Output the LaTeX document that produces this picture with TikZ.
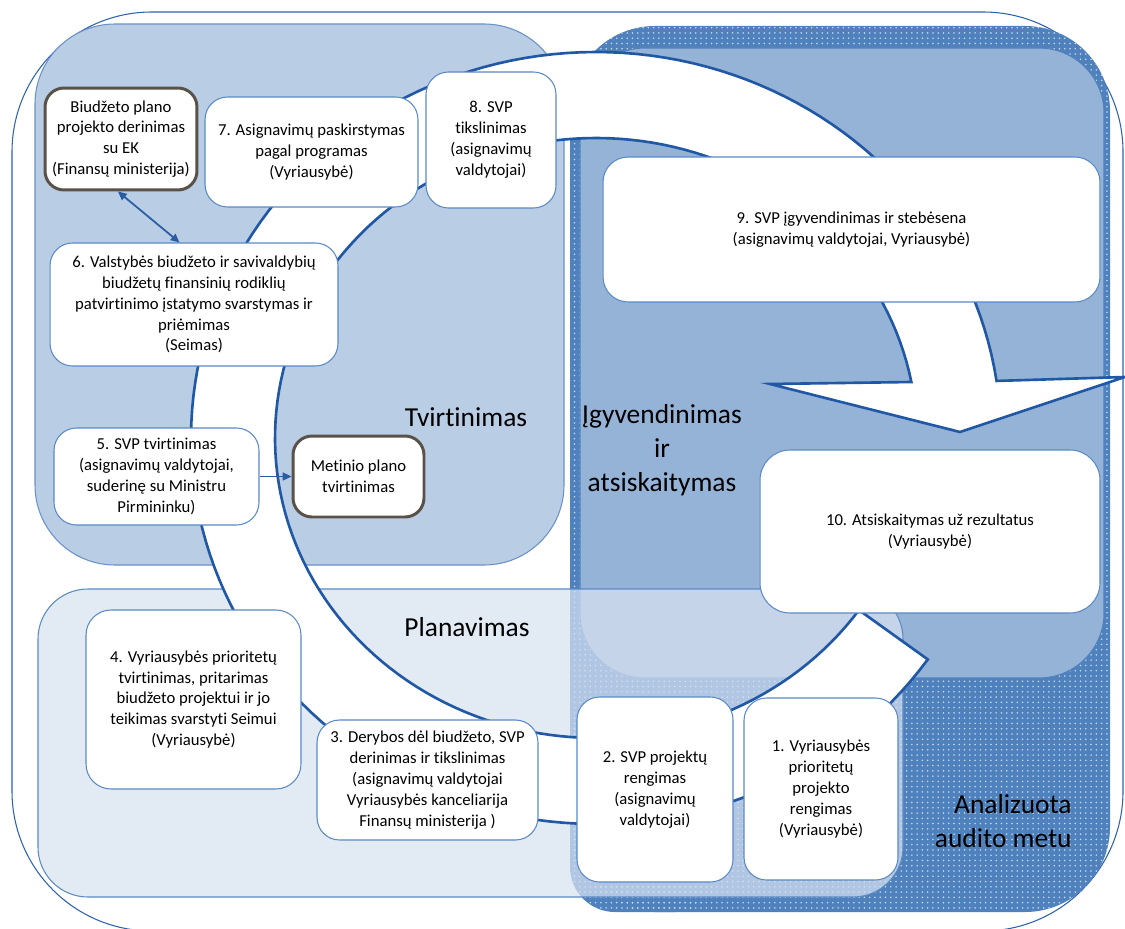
\documentclass[tikz,border=0pt]{standalone}
\usepackage{fontspec}
\setmainfont{Carlito}[Ligatures=NoCommon]
\usetikzlibrary{arrows.meta,patterns.meta,calc}
\definecolor{framec}{HTML}{2F62AE}
\definecolor{tvfill}{HTML}{B9CDE5}
\definecolor{tvline}{HTML}{6A92C8}
\definecolor{medfill}{HTML}{95B3D7}
\definecolor{darkfill}{HTML}{4F81BD}
\definecolor{dotc}{HTML}{C8D8EE}
\definecolor{planfill}{HTML}{D8E2F1}
\definecolor{arrline}{HTML}{2058A6}
\definecolor{boxline}{HTML}{5A8AC6}
\definecolor{specline}{HTML}{5A5148}
\definecolor{conn}{HTML}{2A5DA3}
\begin{document}
\begin{tikzpicture}[x=0.02cm,y=-0.02cm,
  >={Triangle[length=5pt,width=4.5pt]},
  boxnode/.style={draw=boxline, line width=0.6pt, fill=white, rounded corners=0.45cm,
    align=center, inner sep=0pt, font=\fontsize{9.5}{11.9}\selectfont},
  specnode/.style={boxnode, draw=specline, line width=1.7pt, rounded corners=0.38cm},
  biglabel/.style={inner sep=0pt, font=\fontsize{15.6}{19.5}\selectfont},
  connector/.style={draw=conn, line width=1pt},
  panelline/.style={line width=0.6pt},
  dotsfill/.style={pattern={Dots[distance=3pt,radius=0.5pt]}, pattern color=dotc},
  ringarrow/.style={fill=white, draw=arrline, line width=1.5pt}
]
\useasboundingbox (0,0) rectangle (1125,929);
\fill[white] (0,0) rectangle (1125,929);
% outer frame
\draw[framec, panelline, fill=white, rounded corners=2.8cm] (12,12) rectangle (1123,931);
% Tvirtinimas panel
\draw[tvline, panelline, fill=tvfill, rounded corners=1.6cm] (35,24) rectangle (564,565);
% dark dotted panel (Analizuota audito metu)
\fill[darkfill, rounded corners=1.7cm] (570,26) rectangle (1110,912);
\fill[darkfill, rounded corners=0.9cm] (570,700) rectangle (720,912);
\path[dotsfill, rounded corners=1.7cm] (570,26) rectangle (1110,912);
\path[dotsfill, rounded corners=0.9cm] (570,700) rectangle (720,912);
% medium panel (Igyvendinimas)
\draw[darkfill, panelline, fill=medfill, rounded corners=1.3cm] (580,48) rectangle (1104,678);
% Planavimas panel
\draw[boxline, panelline, fill=planfill, fill opacity=0.72, rounded corners=1.0cm] (38,589) rectangle (903,897);
% big circular arrow
\path[ringarrow] plot[domain=35:351.5, samples=160] ({596+405*cos(\x)},{438+386*sin(\x)})
  -- (1125,377) -- (960,432) -- (770,384)
  -- plot[domain=349.24:35, samples=160] ({596+321*cos(\x)},{438+300*sin(\x)}) -- cycle;
% section labels
\node[biglabel] (ltv) at (466,417) {Tvirtinimas};
\node[biglabel] (lpl) at (467,627) {Planavimas};
\node[biglabel, align=center] (lig) at (662,450) {Įgyvendinimas\\ir\\atsiskaitymas};
\node[biglabel, align=right, anchor=east] (lan) at (1072,821) {Analizuota\\audito metu};
% boxes
\node[specnode, minimum width=3.04cm, minimum height=2.04cm] (bud) at (121,139)
  {Biudžeto plano\\projekto derinimas\\su EK\\(Finansų ministerija)};
\node[boxnode, minimum width=4.26cm, minimum height=2.2cm] (b7) at (311.5,152)
  {7. Asignavimų paskirstymas\\pagal programas\\(Vyriausybė)};
\node[boxnode, minimum width=2.6cm, minimum height=2.72cm] (b8) at (491,140)
  {8. SVP\\tikslinimas\\(asignavimų\\valdytojai)};
\node[boxnode, minimum width=5.76cm, minimum height=2.46cm] (b6) at (194,304.5)
  {6. Valstybės biudžeto ir savivaldybių\\biudžetų finansinių rodiklių\\patvirtinimo įstatymo svarstymas ir\\priėmimas\\(Seimas)};
\node[boxnode, minimum width=4.1cm, minimum height=1.94cm] (b5) at (156.5,476.5)
  {5. SVP tvirtinimas\\(asignavimų valdytojai,\\suderinę su Ministru\\Pirmininku)};
\node[specnode, minimum width=2.62cm, minimum height=1.62cm] (met) at (358.5,476.5)
  {Metinio plano\\tvirtinimas};
\node[boxnode, minimum width=4.3cm, minimum height=3.58cm, rounded corners=0.5cm] (b4) at (193.5,699.5)
  {4. Vyriausybės prioritetų\\tvirtinimas, pritarimas\\biudžeto projektui ir jo\\teikimas svarstyti Seimui\\(Vyriausybė)};
\node[boxnode, minimum width=4.42cm, minimum height=2.4cm] (b3) at (427.5,780)
  {3. Derybos dėl biudžeto, SVP\\derinimas ir tikslinimas\\(asignavimų valdytojai\\Vyriausybės kanceliarija\\Finansų ministerija )};
\node[boxnode, minimum width=3.12cm, minimum height=3.7cm] (b2) at (655,789.5)
  {2. SVP projektų\\rengimas\\(asignavimų\\valdytojai)};
\node[boxnode, minimum width=3.08cm, minimum height=3.64cm] (b1) at (821,789)
  {1. Vyriausybės\\prioritetų\\projekto\\rengimas\\(Vyriausybė)};
\node[boxnode, minimum width=6.8cm, minimum height=3.26cm, rounded corners=0.6cm] (b10) at (930,531.5)
  {10. Atsiskaitymas už rezultatus\\(Vyriausybė)};
\node[boxnode, minimum width=9.94cm, minimum height=2.9cm, rounded corners=0.5cm] (b9) at (851.5,229.5)
  {9. SVP įgyvendinimas ir stebėsena\\(asignavimų valdytojai, Vyriausybė)};
% connectors
\draw[connector, <->] ($(bud.south west)!0.48!(bud.south east)$) -- ($(b6.north west)!0.45!(b6.north east)$);
\draw[connector, ->] (b5) -- (met);
\end{tikzpicture}
\end{document}
